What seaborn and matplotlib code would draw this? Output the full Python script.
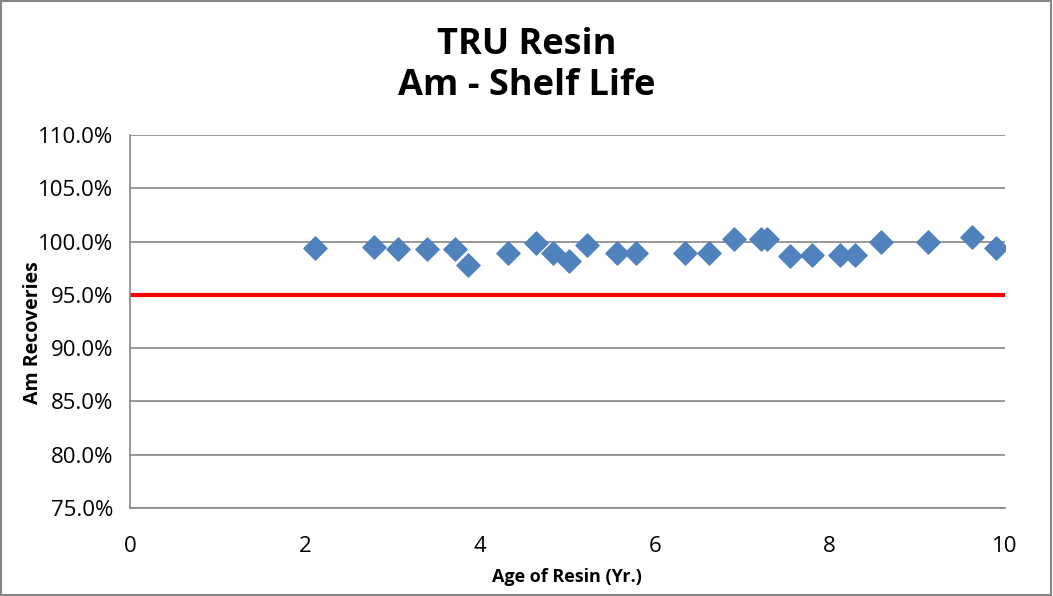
import numpy as np
import pandas as pd
import matplotlib
matplotlib.use("Agg")
import matplotlib.pyplot as plt
import seaborn as sns
from matplotlib.ticker import FuncFormatter

# data
age = [2.11, 2.79, 3.06, 3.40, 3.72, 3.86, 4.32, 4.64, 4.84, 5.02, 5.23,
       5.57, 5.78, 6.35, 6.62, 6.91, 7.21, 7.28, 7.55, 7.80, 8.12, 8.29,
       8.59, 9.13, 9.63, 9.90]
recovery = [0.994, 0.995, 0.993, 0.993, 0.993, 0.978, 0.989, 0.999, 0.989,
            0.982, 0.997, 0.989, 0.989, 0.989, 0.989, 1.0025, 1.0025, 1.002,
            0.986, 0.987, 0.987, 0.987, 1.000, 1.000, 1.004, 0.994]
limit_x = [0, 10]
limit_y = [0.95, 0.95]

df = pd.DataFrame({"Age": age, "Recovery": recovery})

sns.set_style("white")
plt.rcParams["font.family"] = ["Open Sans", "DejaVu Sans"]
plt.rcParams["text.color"] = "black"
plt.rcParams["axes.labelcolor"] = "black"
plt.rcParams["xtick.labelcolor"] = "black"
plt.rcParams["ytick.labelcolor"] = "black"

fig = plt.figure(figsize=(10.53, 5.96), dpi=100)
ax = fig.add_axes([0.1235, 0.1477, 0.8305, 0.6258])

# grid
for yv in np.arange(0.75, 1.1001, 0.05):
    ax.axhline(yv, color="#868686", lw=1.2, zorder=0)

ax.plot(limit_x, limit_y, color="#FF0000", lw=3, zorder=2)
sns.scatterplot(data=df, x="Age", y="Recovery", marker="D", s=140,
                color="#4F81BD", edgecolor="#4F81BD", ax=ax, zorder=3)

ax.set_xlim(0, 10)
ax.set_ylim(0.75, 1.10)
ax.set_xticks(np.arange(0, 11, 2))
ax.set_yticks(np.arange(0.75, 1.1001, 0.05))
ax.yaxis.set_major_formatter(FuncFormatter(lambda v, p: f"{v*100:.1f}%"))

for s in ["top", "right"]:
    ax.spines[s].set_visible(False)
for s in ["left", "bottom"]:
    ax.spines[s].set_color("#868686")
    ax.spines[s].set_linewidth(1.2)

ax.tick_params(axis="both", which="major", direction="out", length=6,
               width=1.2, color="#868686", labelsize=16)
ax.tick_params(axis="x", pad=14)
ax.tick_params(axis="y", pad=6)

ax.set_xlabel("Age of Resin (Yr.)", fontsize=13, fontweight="bold", labelpad=8)
ax.set_ylabel("Am Recoveries", fontsize=14, fontweight="bold")
ax.yaxis.set_label_coords(-0.1, 0.47)

fig.suptitle("TRU Resin\nAm - Shelf Life", fontsize=26, fontweight="bold",
             y=0.955, linespacing=1.2)

# outer chart border
fig.patches.append(plt.Rectangle((0.001, 0.001), 0.997, 0.997,
                                 transform=fig.transFigure, fill=False,
                                 edgecolor="#868686", lw=1.5))

fig.savefig("out.png", dpi=100)
